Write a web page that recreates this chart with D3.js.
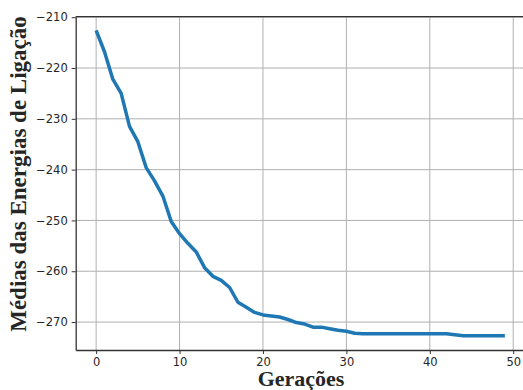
<!DOCTYPE html>
<html>
<head>
<meta charset="utf-8">
<script src="https://cdn.jsdelivr.net/npm/d3@7"></script>
<style>
body { margin: 0; background: #fff; }
.tick text { font-family: "DejaVu Sans", sans-serif; font-size: 11.5px; fill: #262626; }
.lbl { font-family: "Liberation Serif", "Times New Roman", serif; font-weight: bold; fill: #262626; }
</style>
</head>
<body>
<div id="plot"></div>
<script>
// media por geracao
let geracoes = d3.range(0, 50);
let medias = [
  -212.6, -216.8, -222.2, -225.0, -231.5, -234.5, -239.6, -242.2, -245.2, -250.2,
  -252.6, -254.5, -256.2, -259.3, -261.0, -261.8, -263.2, -266.1, -267.1, -268.1,
  -268.6, -268.8, -269.0, -269.5, -270.1, -270.4, -271.0, -271.0, -271.3, -271.6,
  -271.8, -272.2, -272.3, -272.3, -272.3, -272.3, -272.3, -272.3, -272.3, -272.3,
  -272.3, -272.3, -272.3, -272.5, -272.7, -272.7, -272.7, -272.7, -272.7, -272.7
];
let xTicks = [0, 10, 20, 30, 40, 50];
let yTicks = [-270, -260, -250, -240, -230, -220, -210];

let svgWidth = 523;
let svgHeight = 390;
let margin = { top: 16.7, right: -2.3, bottom: 40, left: 75.7 };
let width = svgWidth - margin.left - margin.right;
let height = svgHeight - margin.top - margin.bottom;

let x = d3.scaleLinear()
            .domain([-2.45, 51.45])
            .range([0, width]);

let y = d3.scaleLinear()
            .domain([-275.5, -209.9])
            .range([height, 0]);

let svg = d3.select('#plot')
            .append('svg')
                .attr('width', svgWidth)
                .attr('height', svgHeight);

let g = svg.append('g')
            .attr('transform', `translate(${margin.left},${margin.top})`);

// grade
g.selectAll('.gx')
    .data(xTicks)
    .enter()
        .append('line')
        .attr('x1', d => x(d)).attr('x2', d => x(d))
        .attr('y1', 0).attr('y2', height)
        .attr('stroke', '#b0b0b0').attr('stroke-width', 1);

g.selectAll('.gy')
    .data(yTicks)
    .enter()
        .append('line')
        .attr('x1', 0).attr('x2', width)
        .attr('y1', d => y(d)).attr('y2', d => y(d))
        .attr('stroke', '#b0b0b0').attr('stroke-width', 1);

let xAxis = d3.axisBottom(x).tickValues(xTicks).tickSize(4).tickPadding(4).tickSizeOuter(0)
                .tickFormat(d => d3.format('d')(d));
let yAxis = d3.axisLeft(y).tickValues(yTicks).tickSize(4).tickPadding(4).tickSizeOuter(0)
                .tickFormat(d => '\u2212' + Math.abs(d));

let gx = g.append('g')
    .attr('transform', `translate(0,${height})`)
    .call(xAxis);
let gy = g.append('g').call(yAxis);

[gx, gy].forEach(a => {
    a.select('.domain').attr('stroke', '#333').attr('stroke-width', 1.3);
    a.selectAll('.tick line').attr('stroke', '#333').attr('stroke-width', 1);
});

// borda de cima
g.append('line')
    .attr('x1', 0).attr('x2', width)
    .attr('y1', 0).attr('y2', 0)
    .attr('stroke', '#333').attr('stroke-width', 1.3);

let line = d3.line()
    .x((d, i) => x(geracoes[i]))
    .y(d => y(d));

g.append('path')
    .datum(medias)
    .attr('d', line)
    .attr('fill', 'none')
    .attr('stroke', '#1f77b4')
    .attr('stroke-width', 3.5)
    .attr('stroke-linejoin', 'round');

svg.append('text')
    .attr('class', 'lbl')
    .attr('x', 301)
    .attr('y', 386)
    .attr('text-anchor', 'middle')
    .attr('font-size', 22)
    .text('Gerações');

svg.append('text')
    .attr('class', 'lbl')
    .attr('transform', 'translate(26,174) rotate(-90)')
    .attr('text-anchor', 'middle')
    .attr('font-size', 23)
    .text('Médias das Energias de Ligação');
</script>
</body>
</html>
